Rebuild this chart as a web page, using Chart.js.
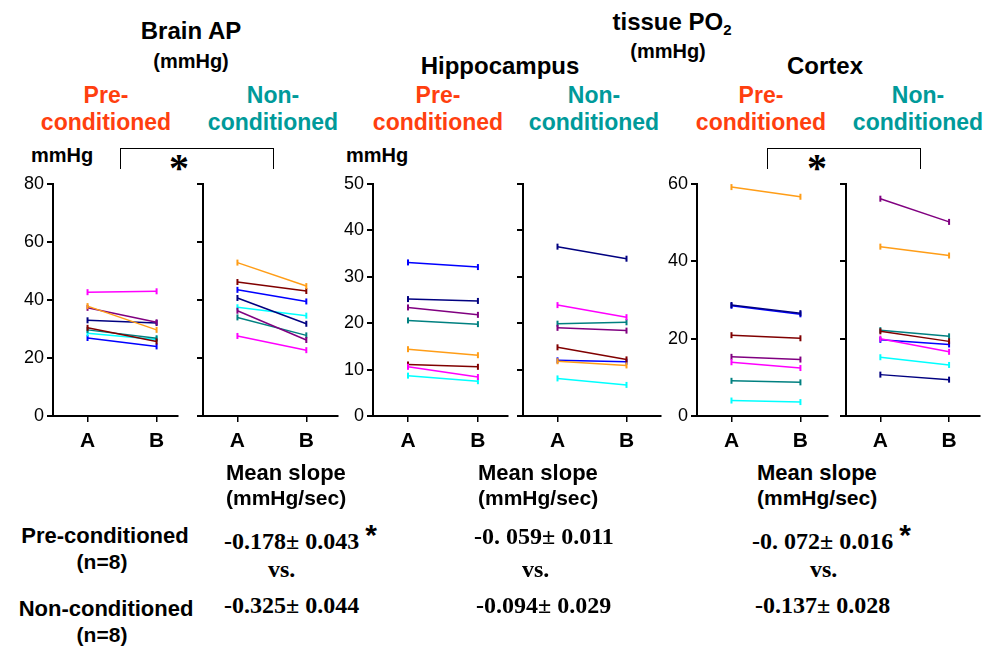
<!DOCTYPE html>
<html>
<head>
<meta charset="utf-8">
<script src="https://cdn.jsdelivr.net/npm/chart.js@4.4.1/dist/chart.umd.min.js"></script>
<style>
  html, body { margin: 0; padding: 0; background: #fff; }
  #page { position: relative; width: 986px; height: 646px; overflow: hidden;
          font-family: "Liberation Sans", Arial, sans-serif; font-weight: bold; color: #000; }
  .t { position: absolute; white-space: nowrap; line-height: 1; }
  .c { transform: translateX(-50%); text-align: center; }
  .pre { color: #ff3f0f; font-size: 23px; line-height: 27px; }
  .non { color: #009a9a; font-size: 23px; line-height: 27px; }
  .num { font-family: "Liberation Serif", "Times New Roman", serif; font-size: 24px; }
  .star { font-family: "Liberation Sans", Arial, sans-serif; font-size: 30px; position: relative; top: -4px; }
  .bracket { position: absolute; border: 1.5px solid #000; border-bottom: none; height: 20px; }
  .panel { position: absolute; top: 170px; height: 290px; }
</style>
</head>
<body>
<div id="page">
  <!-- Brain AP -->
  <div class="t c" style="left:191px; top:19px; font-size:24px;">Brain AP</div>
  <div class="t c" style="left:191px; top:51px; font-size:20px;">(mmHg)</div>
  <div class="t c pre" style="left:106px; top:82px;">Pre-<br>conditioned</div>
  <div class="t c non" style="left:273px; top:82px;">Non-<br>conditioned</div>
  <div class="t" style="left:31px; top:145px; font-size:20px;">mmHg</div>
  <div class="bracket" style="left:120px; top:148px; width:152px;"></div>
  <div class="t c num" style="left:179px; top:148px; font-size:40px;">*</div>

  <!-- tissue PO2 -->
  <div class="t c" style="left:672px; top:10px; font-size:24px;">tissue PO<sub style="font-size:15px; vertical-align:-5px;">2</sub></div>
  <div class="t c" style="left:668px; top:41px; font-size:20px;">(mmHg)</div>
  <div class="t c" style="left:500px; top:54px; font-size:24px;">Hippocampus</div>
  <div class="t c pre" style="left:438px; top:82px;">Pre-<br>conditioned</div>
  <div class="t c non" style="left:594px; top:82px;">Non-<br>conditioned</div>
  <div class="t" style="left:346px; top:145px; font-size:20px;">mmHg</div>

  <div class="t c" style="left:825px; top:54px; font-size:24px;">Cortex</div>
  <div class="t c pre" style="left:761px; top:82px;">Pre-<br>conditioned</div>
  <div class="t c non" style="left:918px; top:82px;">Non-<br>conditioned</div>
  <div class="bracket" style="left:767px; top:148px; width:152px;"></div>
  <div class="t c num" style="left:817px; top:148px; font-size:40px;">*</div>

  <!-- chart canvases -->
  <div class="panel" style="left:3px; width:181px;"><canvas id="p1" width="181" height="290"></canvas></div>
  <div class="panel" style="left:153px; width:191px;"><canvas id="p2" width="191" height="290"></canvas></div>
  <div class="panel" style="left:323px; width:191px;"><canvas id="p3" width="191" height="290"></canvas></div>
  <div class="panel" style="left:473px; width:194px;"><canvas id="p4" width="194" height="290"></canvas></div>
  <div class="panel" style="left:647px; width:187px;"><canvas id="p5" width="187" height="290"></canvas></div>
  <div class="panel" style="left:796px; width:190px;"><canvas id="p6" width="190" height="290"></canvas></div>

  <!-- slope table -->
  <div class="t" style="left:226px; top:462px; font-size:22px;">Mean slope</div>
  <div class="t" style="left:226px; top:487px; font-size:21px;">(mmHg/sec)</div>
  <div class="t" style="left:478px; top:462px; font-size:22px;">Mean slope</div>
  <div class="t" style="left:478px; top:487px; font-size:21px;">(mmHg/sec)</div>
  <div class="t" style="left:757px; top:462px; font-size:22px;">Mean slope</div>
  <div class="t" style="left:757px; top:487px; font-size:21px;">(mmHg/sec)</div>

  <div class="t c" style="left:105px; top:525px; font-size:22px;">Pre-conditioned</div>
  <div class="t c" style="left:102px; top:551px; font-size:21px;">(n=8)</div>
  <div class="t c" style="left:106px; top:598px; font-size:22px;">Non-conditioned</div>
  <div class="t c" style="left:102px; top:624px; font-size:21px;">(n=8)</div>

  <div class="t num" style="left:224px; top:524px;">-0.178±&nbsp;0.043 <span class="star">*</span></div>
  <div class="t num" style="left:268px; top:557px;">vs.</div>
  <div class="t num" style="left:224px; top:593px;">-0.325±&nbsp;0.044</div>

  <div class="t num" style="left:474px; top:524px;">-0. 059±&nbsp;0.011</div>
  <div class="t num" style="left:522px; top:557px;">vs.</div>
  <div class="t num" style="left:476px; top:593px;">-0.094±&nbsp;0.029</div>

  <div class="t num" style="left:752px; top:524px;">-0. 072±&nbsp;0.016 <span class="star">*</span></div>
  <div class="t num" style="left:810px; top:557px;">vs.</div>
  <div class="t num" style="left:755px; top:593px;">-0.137±&nbsp;0.028</div>
</div>

<script>
// time points on the x axis
const TIMEPOINTS = ['A', 'B'];

// series order used by every panel below
const SUBJECTS = ['magenta', 'orange', 'purple', 'navy', 'brown', 'teal', 'cyan', 'blue'];

// Brain AP (mmHg)
const brainPreA = [42.7, 37.9, 37.3, 33.0, 30.4, 29.7, 28.5, 26.9];
const brainPreB = [43.0, 29.7, 32.3, 32.1, 25.7, 26.8, 26.4, 24.0];
const brainNonA = [27.6, 52.9, 36.3, 40.7, 46.2, 34.0, 37.5, 43.5];
const brainNonB = [22.7, 44.8, 26.2, 31.8, 43.1, 27.8, 34.6, 39.5];

// Hippocampus tissue PO2 (mmHg)
const hippoPreA = [10.6, 14.4, 23.4, 25.2, 11.1, 20.6, 8.7, 33.1];
const hippoPreB = [8.4, 13.1, 21.8, 24.8, 10.6, 19.8, 7.5, 32.1];
const hippoNonA = [23.9, 11.8, 19.0, 36.5, 14.8, 19.9, 8.1, 12.0];
const hippoNonB = [21.3, 10.9, 18.4, 33.9, 12.2, 20.2, 6.7, 11.7];

// Cortex tissue PO2 (mmHg)
const cortexPreA = [13.9, 59.2, 15.3, 28.7, 20.9, 9.1, 4.0, 28.5];
const cortexPreB = [12.4, 56.7, 14.6, 26.6, 20.1, 8.7, 3.6, 26.3];
const cortexNonA = [20.0, 43.8, 56.2, 10.7, 21.9, 22.2, 15.2, 19.7];
const cortexNonB = [16.6, 41.5, 50.2, 9.4, 19.3, 20.6, 13.2, 18.5];

// y axis ranges
const brainTicks = { max: 80, step: 20 };
const hippoTicks = { max: 50, step: 10 };
const cortexTicks = { max: 60, step: 20 };

const COLORS = {
	magenta: '#ff00ff',
	orange: '#ff9d17',
	purple: '#800080',
	navy: '#000080',
	brown: '#800000',
	teal: '#008080',
	cyan: '#00ffff',
	blue: '#0000ff'
};

/**
 * Builds one paired before/after panel.
 */
function renderPanel(id, valsA, valsB, range, showLabels, xMax) {
	const ctx = document.getElementById(id).getContext('2d');

	const datasets = SUBJECTS.map((name, i) => ({
		label: name,
		data: [valsA[i], valsB[i]].map((v, j) => ({ x: j + 1, y: v })),
		borderColor: COLORS[name],
		backgroundColor: COLORS[name],
		borderWidth: 1.5,
		pointStyle: 'line',
		rotation: 90,
		pointRadius: 3,
		pointBorderWidth: 2,
		tension: 0
	}));

	new Chart(ctx, {
		type: 'line',
		data: { datasets },
		options: {
			responsive: false,
			animation: false,
			events: [],
			layout: { padding: { top: 14, right: 2, left: 0, bottom: 0 } },
			scales: {
				x: {
					type: 'linear',
					min: 0.5,
					max: xMax,
					afterBuildTicks: axis => { axis.ticks = TIMEPOINTS.map((t, i) => ({ value: i + 1 })); },
					afterFit: axis => { axis.height = 44; },
					ticks: {
						color: '#000',
						padding: 7,
						font: { family: 'Liberation Sans', size: 21, weight: 'bold' },
						callback: v => TIMEPOINTS[v - 1] || ''
					},
					grid: { display: true, drawOnChartArea: false, drawTicks: true, tickLength: 6, color: '#000', lineWidth: 1.5 },
					border: { display: true, color: '#000', width: 2 }
				},
				y: {
					min: 0,
					max: range.max,
					afterFit: axis => { axis.width = 50; },
					ticks: {
						stepSize: range.step,
						color: '#000',
						padding: 3,
						font: { family: 'Liberation Sans', size: 18 },
						callback: v => showLabels ? v : ''
					},
					grid: { display: true, drawOnChartArea: false, drawTicks: true, tickLength: 6, color: '#000', lineWidth: 2 },
					border: { display: true, color: '#000', width: 2 }
				}
			},
			plugins: {
				legend: { display: false },
				tooltip: { enabled: false }
			}
		}
	});
}

renderPanel('p1', brainPreA, brainPreB, brainTicks, true, 2.31);
renderPanel('p2', brainNonA, brainNonB, brainTicks, false, 2.46);
renderPanel('p3', hippoPreA, hippoPreB, hippoTicks, true, 2.43);
renderPanel('p4', hippoNonA, hippoNonB, hippoTicks, false, 2.5);
renderPanel('p5', cortexPreA, cortexPreB, cortexTicks, true, 2.4);
renderPanel('p6', cortexNonA, cortexNonB, cortexTicks, false, 2.45);
</script>
</body>
</html>
